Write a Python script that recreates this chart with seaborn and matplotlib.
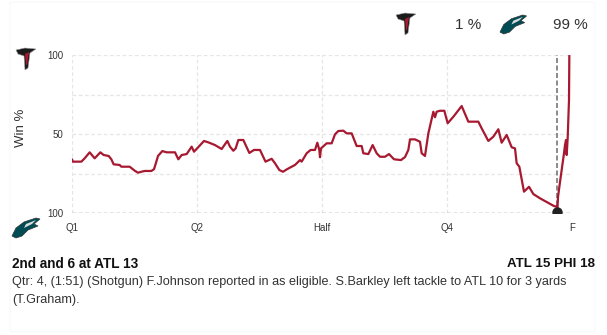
import matplotlib
matplotlib.use("Agg")
import matplotlib.pyplot as plt
import seaborn as sns
import pandas as pd
from matplotlib.patches import FancyBboxPatch, Polygon

# ---- data (game minutes elapsed, ATL win probability %) ----
minutes = [0.0, 0.1, 1.12, 1.52, 2.12, 2.72, 3.40, 3.80, 4.40, 4.72, 5.00, 5.72, 5.92, 6.92,
           7.52, 7.92, 8.32, 8.72, 9.52, 9.84, 10.12, 10.32, 10.84, 11.36, 12.36, 12.76,
           13.16, 13.76, 14.36, 14.64, 15.28, 15.84, 16.36, 17.16, 17.96, 18.64, 18.96,
           19.36, 19.64, 19.96, 20.56, 21.28, 21.84, 22.56, 23.22, 23.96, 24.36, 24.88,
           25.32, 25.80, 26.36, 26.76, 27.36, 27.56, 28.16, 28.64, 29.16, 29.44, 29.68,
           29.76, 29.88, 30.56, 31.16, 31.56, 31.96, 32.56, 32.96, 33.56, 34.16, 34.76,
           34.96, 35.56, 36.08, 36.56, 36.96, 37.56, 38.04, 38.64, 39.48, 39.96, 40.36,
           40.56, 41.16, 41.76, 41.96, 42.36, 42.76, 43.36, 43.56, 43.76, 44.16, 44.68,
           45.08, 45.76, 46.76, 47.56, 48.76, 49.16, 49.96, 50.56, 51.16, 51.56, 52.16,
           52.76, 53.16, 53.36, 53.68, 54.24, 54.84, 55.36, 56.16, 57.84, 58.16, 58.24,
           58.32, 58.56, 59.04, 59.16, 59.28, 59.36, 59.48, 59.64, 59.68]
atl_win = [34.0, 32.5, 32.5, 34.6, 38.4, 34.6, 38.4, 36.7, 36.1, 34.0, 30.8, 30.4, 29.3, 29.3,
           26.8, 25.5, 26.1, 26.6, 26.6, 27.7, 32.5, 36.1, 39.2, 38.4, 38.4, 34.0,
           36.7, 37.3, 42.0, 38.8, 42.4, 45.6, 44.7, 43.0, 40.5, 45.6, 42.0,
           39.4, 40.9, 46.2, 46.2, 38.0, 39.9, 39.9, 32.5, 34.3, 31.5, 27.2,
           26.1, 27.7, 29.3, 30.4, 33.5, 32.5, 37.8, 39.9, 39.9, 44.5, 39.9,
           35.3, 40.9, 44.1, 44.1, 49.8, 51.9, 52.1, 50.4, 50.4, 42.4, 42.4,
           37.8, 37.3, 43.0, 37.8, 35.6, 35.6, 37.3, 34.0, 33.5, 35.4, 39.9,
           46.6, 46.6, 45.1, 37.8, 36.1, 50.4, 64.1, 60.6, 64.1, 64.7, 64.7,
           56.8, 60.9, 67.7, 57.8, 57.8, 53.6, 45.6, 48.3, 53.0, 44.5, 49.4,
           41.6, 40.9, 31.5, 29.3, 13.5, 16.6, 12.0, 9.3, 4.4, 4.0, 0.8,
           10.1, 19.6, 37.8, 43.0, 46.2, 36.7, 47.3, 71.5, 99.6]

tick_minutes = [0, 15, 30, 45, 60]
tick_labels = ["Q1", "Q2", "Half", "Q4", "F"]
ytick_values = [0, 25, 50, 75, 100]
ytick_labels = ["100", "", "50", "", "100"]

sel_minute = 58.24
sel_win = 0.8

header_atl = "1 %"
header_phi = "99 %"
down_text = "2nd and 6 at ATL 13"
score_text = "ATL 15 PHI 18"
play_line1 = "Qtr: 4, (1:51) (Shotgun) F.Johnson reported in as eligible. S.Barkley left tackle to ATL 10 for 3 yards"
play_line2 = "(T.Graham)."

df = pd.DataFrame({"minute": minutes, "win": atl_win})

sns.set_theme(style="white")
plt.rcParams["font.family"] = ["Liberation Sans", "DejaVu Sans"]

W, H = 607, 335
fig = plt.figure(figsize=(W / 100, H / 100), dpi=100)
fig.patch.set_facecolor("white")


def px(x, y):
    return (x / W, 1 - y / H)


# very faint card border
card = FancyBboxPatch((10 / W, 3 / H), 585 / W, 330 / H,
                      boxstyle="round,pad=0,rounding_size=0.006",
                      transform=fig.transFigure, facecolor="none",
                      edgecolor="#f8f8f8", linewidth=0.8)
fig.add_artist(card)


def falcon(x0, y0, s):
    # simple stylised falcon mark (black head with red streaks)
    body = [(0, 2), (9, 0), (20, 1), (14, 5), (12, 20), (9, 22), (8, 8), (2, 6)]
    fig.add_artist(Polygon([px(x0 + a * s, y0 + b * s) for a, b in body], closed=True,
                           transform=fig.transFigure, facecolor="#1b1b1b",
                           edgecolor="#9a9a9a", linewidth=0.4))
    streak = [(9, 6), (13, 4), (11, 17), (10, 17)]
    fig.add_artist(Polygon([px(x0 + a * s, y0 + b * s) for a, b in streak], closed=True,
                           transform=fig.transFigure, facecolor="#A71930", edgecolor="none"))


def eagle(x0, y0, s):
    # simple stylised eagle head mark (midnight green with silver)
    head = [(0, 18), (4, 10), (12, 4), (24, 0), (28, 1), (22, 6), (26, 8), (16, 12),
            (10, 18), (4, 20)]
    fig.add_artist(Polygon([px(x0 + a * s, y0 + b * s) for a, b in head], closed=True,
                           transform=fig.transFigure, facecolor="#004C54",
                           edgecolor="#333333", linewidth=0.5))
    hl = [(14, 6), (24, 2), (20, 6), (12, 10)]
    fig.add_artist(Polygon([px(x0 + a * s, y0 + b * s) for a, b in hl], closed=True,
                           transform=fig.transFigure, facecolor="#d8dcdc", edgecolor="none"))


falcon(396, 13, 1.0)
eagle(500, 15, 0.95)
falcon(16, 48, 1.0)
eagle(12, 218, 1.0)

ax = fig.add_axes([72 / W, (H - 213) / H, 500 / W, 158 / H])
ax.set_facecolor("white")

# grid
for yv in ytick_values[1:]:
    ax.axhline(yv, color="#e6e6e6", lw=0.9, ls=(0, (3, 2)), zorder=0)
for xv in tick_minutes:
    ax.axvline(xv, color="#e6e6e6", lw=0.9, ls=(0, (3, 2)), zorder=0)
ax.axhline(0, color="#333333", lw=0.9, ls=(0, (3, 2)), zorder=1)
ax.axvline(sel_minute, color="#777777", lw=1.2, ls=(0, (3, 1.5)), zorder=1)

sns.lineplot(data=df, x="minute", y="win", ax=ax, color="#A71930", linewidth=1.6,
             zorder=3, estimator=None, sort=False)
ax.plot([sel_minute], [sel_win], "o", color="#222222", markersize=6.5, zorder=4)

ax.set_xlim(0, 60)
ax.set_ylim(0, 100)
ax.set_xticks(tick_minutes)
ax.set_xticklabels(tick_labels, fontsize=7, color="#333333")
ax.set_yticks(ytick_values)
ax.set_yticklabels(ytick_labels, fontsize=7, color="#333333")
ax.tick_params(axis="both", length=0)
ax.tick_params(axis="y", pad=6)
ax.tick_params(axis="x", pad=7)
ax.set_xlabel("")
ax.set_ylabel("")
for s in ax.spines.values():
    s.set_visible(False)

fig.text(21 / W, 1 - 128 / H, "Win %", rotation=90, ha="center", va="center",
         fontsize=9.5, color="#333333")

# header
fig.text(481 / W, 1 - 25 / H, header_atl, ha="right", va="center", fontsize=11, color="#333333")
fig.text(588 / W, 1 - 25 / H, header_phi, ha="right", va="center", fontsize=11, color="#333333")

# bottom play description
fig.text(12 / W, 1 - 264 / H, down_text, ha="left", va="center", fontsize=9.8,
         fontweight="bold", color="#111111")
fig.text(595 / W, 1 - 264 / H, score_text, ha="right", va="center", fontsize=9.6,
         fontweight="bold", color="#111111")
fig.text(12 / W, 1 - 282 / H, play_line1, ha="left", va="center", fontsize=9.1, color="#333333")
fig.text(12 / W, 1 - 300 / H, play_line2, ha="left", va="center", fontsize=9.1, color="#333333")

fig.savefig("out.png", dpi=100, facecolor="white")
